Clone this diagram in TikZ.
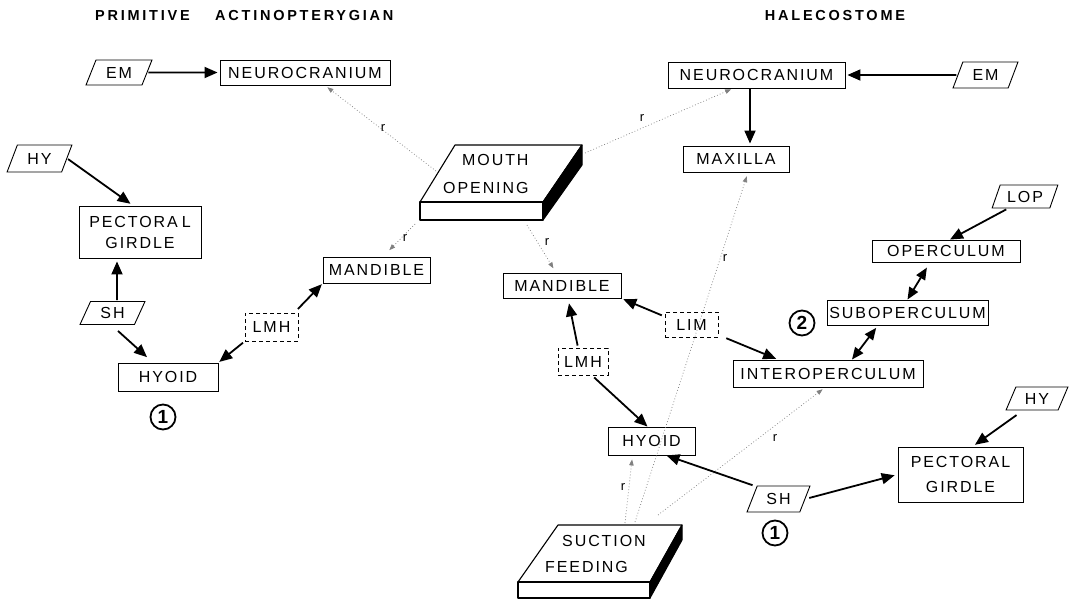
\documentclass[tikz,border=0pt]{standalone}
\usepackage{fontspec}
\setmainfont{Liberation Sans}
\newfontfamily\labfont[LetterSpace=12]{Liberation Sans}
\newfontfamily\headfont[LetterSpace=19]{Liberation Sans}
\usetikzlibrary{arrows.meta,shapes.geometric,calc}
\begin{document}
\begin{tikzpicture}[x=1pt,y=-1pt,
  lab/.style={font=\labfont\fontsize{16}{20}\selectfont, inner sep=0pt, align=center},
  box/.style={lab, draw, line width=0.9pt, rectangle},
  dbox/.style={box, dash pattern=on 4pt off 3pt},
  para/.style={lab, draw, line width=0.9pt, trapezium, trapezium left angle=63, trapezium right angle=117, trapezium stretches=true},
  arr/.style={line width=1.8pt, -{Triangle[length=13pt,width=11pt]}},
  darr/.style={line width=1.8pt, {Triangle[length=12pt,width=10pt]}-{Triangle[length=12pt,width=10pt]}},
  dotarr/.style={black!50, line width=0.7pt, dash pattern=on 0.8pt off 2.2pt, -{Triangle[length=6pt,width=4.5pt]}},
  rlab/.style={font=\fontsize{13}{15}\selectfont, inner sep=0pt},
  head/.style={font=\headfont\bfseries\fontsize{14.5}{16}\selectfont, inner sep=0pt},
  circnum/.style={circle, draw, line width=1.8pt, minimum size=25pt, inner sep=0pt, font=\bfseries\fontsize{19}{19}\selectfont},
  slab/.style={line width=1.1pt, line join=round},
  slabtext/.style={lab, align=left}
]
\fill[white] (0,0) rectangle (1074,602);
\path[use as bounding box] (0,0) rectangle (1074,602);

% headers
\node[head, anchor=west] (h1) at (95,16) {PRIMITIVE};
\node[head, anchor=west] (h2) at (215,16) {ACTINOPTERYGIAN};
\node[head] (h3) at (835,16) {HALECOSTOME};

% mouth opening slab
\coordinate (mA) at (420,202);
\coordinate (mB) at (543,202);
\coordinate (mC) at (582,145);
\coordinate (mD) at (455,145);
\coordinate (mE) at (582,165);
\coordinate (mF) at (543,220);
\coordinate (mG) at (420,220);
\filldraw[slab, fill=white] (mA) -- (mB) -- (mC) -- (mD) -- cycle;
\filldraw[slab, fill=white] (mA) -- (mB) -- (mF) -- (mG) -- cycle;
\filldraw[slab, fill=black] (mB) -- (mC) -- (mE) -- (mF) -- cycle;
\node[slabtext, anchor=west] (mouth) at (443,174) {\hspace{19pt}MOUTH\\[8pt]OPENING};

% suction feeding slab
\coordinate (sA) at (518,582);
\coordinate (sB) at (650,582);
\coordinate (sC) at (682,525);
\coordinate (sD) at (558,525);
\coordinate (sE) at (682,540);
\coordinate (sF) at (650,598);
\coordinate (sG) at (518,598);
\filldraw[slab, fill=white] (sA) -- (sB) -- (sC) -- (sD) -- cycle;
\filldraw[slab, fill=white] (sA) -- (sB) -- (sF) -- (sG) -- cycle;
\filldraw[slab, fill=black] (sB) -- (sC) -- (sE) -- (sF) -- cycle;
\node[slabtext, anchor=west] (suction) at (545,554) {\hspace{17pt}SUCTION\\[6pt]FEEDING};

% left nodes
\node[box, minimum width=170pt, minimum height=25pt] (neuroL) at (305,72.5) {NEUROCRANIUM};
\node[para, minimum width=66pt, minimum height=25pt] (emL) at (119,72.5) {EM};
\node[para, minimum width=65pt, minimum height=27pt] (hyL) at (39.5,158.5) {HY};
\node[box, minimum width=122pt, minimum height=52pt] (pgL) at (140,232) {PECTORA\hspace{4pt}L\\[1pt]GIRDLE};
\node[para, minimum width=65pt, minimum height=23pt] (shL) at (112.5,313) {SH};
\node[box, minimum width=100pt, minimum height=28pt] (hyoidL) at (168,377) {HYOID};
\node[dbox, minimum width=53pt, minimum height=28pt] (lmhL) at (271.5,327) {LMH};
\node[box, minimum width=107pt, minimum height=26pt] (mandL) at (376.5,270) {MANDIBLE};
\node[circnum] (c1L) at (163,417) {1};

% right nodes
\node[box, minimum width=177pt, minimum height=26pt] (neuroR) at (756.5,75) {NEUROCRANIUM};
\node[para, minimum width=65pt, minimum height=26pt] (emR) at (985.5,75) {EM};
\node[box, minimum width=106pt, minimum height=26pt] (maxR) at (736,159) {MAXILLA};
\node[box, minimum width=118pt, minimum height=25pt] (mandR) at (562,285.5) {MANDIBLE};
\node[dbox, minimum width=53pt, minimum height=25pt] (limR) at (691.5,324.5) {LIM};
\node[dbox, minimum width=50pt, minimum height=27pt] (lmhR) at (583,361.5) {LMH};
\node[box, minimum width=87pt, minimum height=28pt] (hyoidR) at (651.5,441) {HYOID};
\node[para, minimum width=66pt, minimum height=23pt] (lopR) at (1025,196.5) {LOP};
\node[box, minimum width=148pt, minimum height=22pt] (operR) at (946,251) {OPERCULUM};
\node[box, minimum width=161pt, minimum height=25pt] (subR) at (907.5,312.5) {SUBOPERCULUM};
\node[box, minimum width=190pt, minimum height=27pt] (interR) at (828,373.5) {INTEROPERCULUM};
\node[para, minimum width=62pt, minimum height=23pt] (hyR) at (1037,398.5) {HY};
\node[box, minimum width=125pt, minimum height=55pt] (pgR) at (960.5,474.5) {PECTORAL\\[5pt]GIRDLE};
\node[para, minimum width=63pt, minimum height=26pt] (shR) at (778.5,499) {SH};
\node[circnum] (c2) at (802,323) {2};
\node[circnum] (c1R) at (775,533) {1};

% dotted connectors
\coordinate (m1) at (436,171);
\coordinate (m2) at (585,153);
\coordinate (m3) at (415,224);
\coordinate (m4) at (527,225);
\coordinate (s1) at (625,523);
\coordinate (s2) at (635,522);
\coordinate (s3) at (658,515);
\draw[dotarr, shorten >=3pt] (m1) -- ([xshift=20pt]neuroL.south);
\draw[dotarr, shorten >=2pt] (m2) -- ([xshift=-23.5pt]neuroR.south);
\draw[dotarr, shorten >=9pt] (m3) -- ([xshift=6.5pt]mandL.north);
\draw[dotarr, shorten >=5pt] (m4) -- ([xshift=-6pt]mandR.north);
\draw[dotarr, shorten >=4pt] (s1) -- ([xshift=-19pt]hyoidR.south);
\draw[dotarr, shorten >=4pt] (s2) -- ([xshift=12pt]maxR.south);
\draw[dotarr, shorten >=3pt] (s3) -- ([xshift=-3pt]interR.south);
\node[rlab] (r1) at (383,128) {r};
\node[rlab] (r2) at (642,118) {r};
\node[rlab] (r3) at (405,238) {r};
\node[rlab] (r4) at (547,242) {r};
\node[rlab] (r5) at (623,487) {r};
\node[rlab] (r6) at (725,258) {r};
\node[rlab] (r7) at (775,438) {r};

% solid connectors, left
\draw[arr, shorten <=1pt, shorten >=2pt] (emL) -- (neuroL);
\draw[arr, shorten <=1pt, shorten >=3pt] (hyL.east) -- ([xshift=-7pt]pgL.north);
\draw[arr, shorten <=1pt, shorten >=3pt] ([xshift=4.5pt]shL.north) -- ([xshift=-23pt]pgL.south);
\draw[arr, shorten >=8pt] ([xshift=5.5pt,yshift=-6pt]shL.south) -- ([xshift=-15pt]hyoidL.north);
\draw[arr, shorten <=2pt, shorten >=1pt] (lmhL.south west) -- (hyoidL.north east);
\draw[arr, shorten <=5pt, shorten >=1pt] ([xshift=-4pt]lmhL.north east) -- (mandL.south west);

% solid connectors, right
\draw[arr, shorten <=1pt, shorten >=2pt] (emR) -- (neuroR);
\draw[arr, shorten >=2pt] ([xshift=-6.5pt]neuroR.south) -- ([xshift=14pt]maxR.north);
\draw[arr, shorten <=3pt, shorten >=2pt] ([yshift=8pt]limR.west) -- (mandR.south east);
\draw[arr, shorten <=2pt, shorten >=2pt] ([xshift=6pt]limR.south east) -- ([xshift=-50pt]interR.north);
\draw[arr, shorten <=2pt, shorten >=5pt] ([xshift=-5pt]lmhR.north) -- ([xshift=6pt]mandR.south);
\draw[arr, shorten <=3pt] ([xshift=9pt]lmhR.south) -- ([xshift=-4pt]hyoidR.north);
\draw[arr, shorten <=1pt] ([xshift=-25pt]shR.north) -- ([xshift=15pt]hyoidR.south);
\draw[arr, shorten <=4pt, shorten >=3pt] (shR.east) -- (pgR.west);
\draw[arr, shorten <=8pt, shorten >=3pt] ([xshift=-14pt]hyR.south) -- ([xshift=12pt]pgR.north);
\draw[arr, shorten <=2pt] ([xshift=-17pt]lopR.south) -- ([xshift=4pt]operR.north);
\draw[darr, shorten <=6pt] ([xshift=-16pt]operR.south) -- (subR.north);
\draw[darr, shorten <=3pt] ([xshift=-29.5pt]subR.south) -- ([xshift=24pt]interR.north);
\end{tikzpicture}
\end{document}
